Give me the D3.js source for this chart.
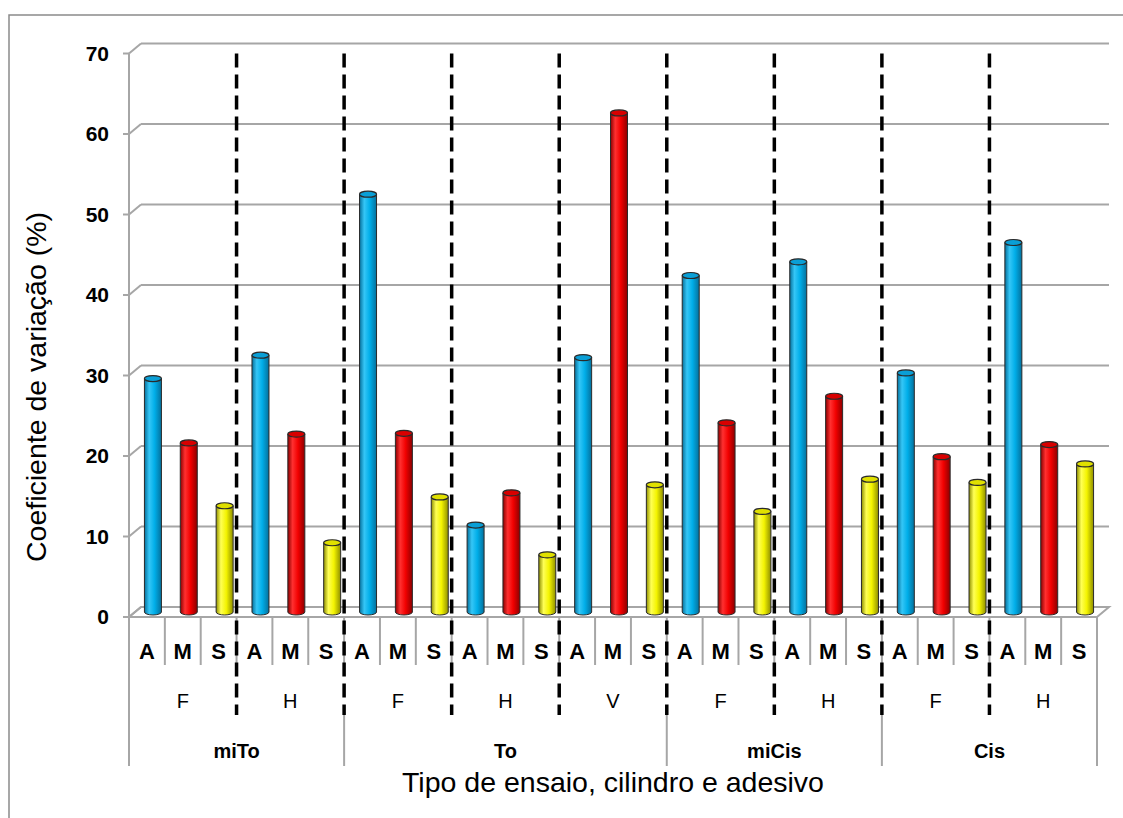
<!DOCTYPE html>
<html>
<head>
<meta charset="utf-8">
<script src="https://cdn.jsdelivr.net/npm/d3@7"></script>
<style>
  body { margin: 0; background: #fff; }
  svg { display: block; font-family: "Liberation Sans", Arial, sans-serif; }
</style>
</head>
<body>
<div id="chart"></div>
<script>
// chart data
const groups = ['miTo', 'To', 'miCis', 'Cis'];
const subgroups = [['F', 'H'], ['F', 'H', 'V'], ['F', 'H'], ['F', 'H']];
const adhesives = ['A', 'M', 'S'];
const valuesA = [29, 31.9, 51.9, 10.8, 31.6, 41.8, 43.5, 29.7, 45.9];
const valuesM = [21, 22.1, 22.2, 14.8, 62, 23.5, 26.8, 19.3, 20.8];
const valuesS = [13.2, 8.6, 14.3, 7.1, 15.8, 12.5, 16.5, 16.1, 18.4];
const yTicks = [0, 10, 20, 30, 40, 50, 60, 70];

const seriesColors = {
    A: { dark: '#05709c', light: '#35c6f6', base: '#00aee9', top: '#0a9fd6' },
    M: { dark: '#8c0000', light: '#ff3030', base: '#f20000', top: '#d80000' },
    S: { dark: '#8f8f00', light: '#ffff55', base: '#f4f400', top: '#e0e000' }
};

function chart(selector) {
    let W = 1123, H = 818,
        left = 129, right = 1097,
        depthX = 12, depthY = 10,
        barW = 17, ry = 3;

    // flatten into one row per bar
    let rows = [];
    let sgIndex = 0;
    groups.forEach((g, gi) => {
        subgroups[gi].forEach(sg => {
            let vals = { A: valuesA[sgIndex], M: valuesM[sgIndex], S: valuesS[sgIndex] };
            adhesives.forEach(a => {
                rows.push({ key: g + '|' + sg + '|' + a, group: g, sub: sg, adh: a, value: vals[a] });
            });
            sgIndex++;
        });
    });

    let svg = d3.select(selector).append('svg')
        .attr('width', W).attr('height', H);

    // outer chart border
    svg.append('rect')
        .attr('x', 9).attr('y', 15).attr('width', W + 20).attr('height', H + 20)
        .attr('fill', 'none').attr('stroke', '#8a8a8a').attr('stroke-width', 1.5);

    let xScale = d3.scaleBand()
        .domain(rows.map(d => d.key))
        .range([left, right])
        .padding(0);

    // middle depth (where the bars stand)
    let yScale = d3.scaleLinear().domain([0, 70]).range([612, 48.5]);
    let yFront = v => yScale(v) + depthY / 2;
    let yBack = v => yScale(v) - depthY / 2;

    let defs = svg.append('defs');
    adhesives.forEach(a => {
        let c = seriesColors[a];
        let gr = defs.append('linearGradient').attr('id', 'grad' + a)
            .attr('x1', '0%').attr('x2', '100%').attr('y1', '0%').attr('y2', '0%');
        gr.append('stop').attr('offset', '0%').attr('stop-color', c.dark);
        gr.append('stop').attr('offset', '28%').attr('stop-color', c.light);
        gr.append('stop').attr('offset', '60%').attr('stop-color', c.base);
        gr.append('stop').attr('offset', '100%').attr('stop-color', c.dark);
    });

    const gridColor = '#a6a6a6';

    // gridlines on back wall + side diagonals + tick marks
    let grid = svg.append('g');
    yTicks.forEach(t => {
        if (t > 0) {
            grid.append('line')
                .attr('x1', left + depthX).attr('x2', right + depthX)
                .attr('y1', yBack(t)).attr('y2', yBack(t))
                .attr('stroke', gridColor).attr('stroke-width', 2);
        }
        grid.append('line')
            .attr('x1', left).attr('x2', left + depthX)
            .attr('y1', yFront(t)).attr('y2', yBack(t))
            .attr('stroke', gridColor).attr('stroke-width', 2);
        grid.append('line')
            .attr('x1', left - 6).attr('x2', left)
            .attr('y1', yFront(t)).attr('y2', yFront(t))
            .attr('stroke', gridColor).attr('stroke-width', 2);
    });

    // floor
    grid.append('path')
        .attr('d', `M${left + depthX},${yBack(0)} L${right + depthX},${yBack(0)} L${right},${yFront(0)} L${left},${yFront(0)} Z`)
        .attr('fill', 'none').attr('stroke', gridColor).attr('stroke-width', 2);

    // value axis line
    grid.append('line')
        .attr('x1', left).attr('x2', left)
        .attr('y1', yFront(70)).attr('y2', yFront(0))
        .attr('stroke', gridColor).attr('stroke-width', 2);

    // tick labels
    svg.append('g').selectAll('text')
        .data(yTicks).enter()
        .append('text')
        .attr('x', 109).attr('y', d => yFront(d))
        .attr('dy', '0.35em')
        .attr('text-anchor', 'end')
        .attr('font-size', 21).attr('font-weight', 'bold')
        .text(d => d);

    // category rows
    let row1Bottom = 665, row2Bottom = 715, row3Bottom = 766;
    let bw = xScale.bandwidth();

    let cat = svg.append('g');
    // gray dividers for A/M/S row
    rows.forEach((d, i) => {
        if (i > 0) {
            cat.append('line')
                .attr('x1', xScale(d.key)).attr('x2', xScale(d.key))
                .attr('y1', yFront(0)).attr('y2', row1Bottom)
                .attr('stroke', gridColor).attr('stroke-width', 2);
        }
    });
    // left and right edges of category axis
    [left, right].forEach(x => {
        cat.append('line')
            .attr('x1', x).attr('x2', x)
            .attr('y1', yFront(0)).attr('y2', row3Bottom)
            .attr('stroke', gridColor).attr('stroke-width', 2);
    });

    cat.selectAll('text.adh')
        .data(rows).enter()
        .append('text')
        .attr('class', 'adh')
        .attr('x', d => xScale(d.key) + bw / 2)
        .attr('y', 651).attr('dy', '0.35em')
        .attr('text-anchor', 'middle')
        .attr('font-size', 22).attr('font-weight', 'bold')
        .text(d => d.adh);

    // subgroup and group labels + boundaries
    let subList = [], groupList = [];
    groups.forEach(g => {
        let gRows = rows.filter(r => r.group === g);
        let gx0 = xScale(gRows[0].key), gx1 = xScale(gRows[gRows.length - 1].key) + bw;
        groupList.push({ name: g, x0: gx0, x1: gx1 });
        let subs = subgroups[groups.indexOf(g)];
        subs.forEach((s, si) => {
            let sRows = gRows.filter(r => r.sub === s);
            let sx0 = xScale(sRows[0].key), sx1 = xScale(sRows[sRows.length - 1].key) + bw;
            subList.push({ name: s, x0: sx0, x1: sx1, first: si === 0 });
        });
    });

    cat.selectAll('text.sub')
        .data(subList).enter()
        .append('text')
        .attr('class', 'sub')
        .attr('x', d => (d.x0 + d.x1) / 2)
        .attr('y', 701).attr('dy', '0.35em')
        .attr('text-anchor', 'middle')
        .attr('font-size', 20)
        .text(d => d.name);

    cat.selectAll('text.grp')
        .data(groupList).enter()
        .append('text')
        .attr('class', 'grp')
        .attr('x', d => (d.x0 + d.x1) / 2)
        .attr('y', 751).attr('dy', '0.35em')
        .attr('text-anchor', 'middle')
        .attr('font-size', 20).attr('font-weight', 'bold')
        .text(d => d.name);

    // gray group boundaries (lower rows)
    groupList.slice(1).forEach(g => {
        cat.append('line')
            .attr('x1', g.x0).attr('x2', g.x0)
            .attr('y1', row2Bottom - 3).attr('y2', row3Bottom)
            .attr('stroke', gridColor).attr('stroke-width', 2);
    });

    // bars (cylinders)
    let bars = svg.append('g').selectAll('g.bar')
        .data(rows).enter()
        .append('g').attr('class', 'bar');

    let cx = d => xScale(d.key) + bw / 2 + depthX / 2;
    let rx = barW / 2;

    bars.append('path')
        .attr('d', d => {
            let x0 = cx(d) - rx, x1 = cx(d) + rx;
            let yt = yScale(d.value), yb = yScale(0);
            return `M${x0},${yt} L${x0},${yb} A${rx},${ry} 0 0 0 ${x1},${yb} L${x1},${yt} Z`;
        })
        .attr('fill', d => `url(#grad${d.adh})`)
        .attr('stroke', '#2a2a2a').attr('stroke-width', 1);

    bars.append('ellipse')
        .attr('cx', cx).attr('cy', d => yScale(d.value))
        .attr('rx', rx).attr('ry', ry)
        .attr('fill', d => seriesColors[d.adh].top)
        .attr('stroke', '#2a2a2a').attr('stroke-width', 1.2);

    // dashed separators
    let dashed = svg.append('g');
    subList.forEach((s, i) => {
        if (i === 0) return;
        dashed.append('line')
            .attr('x1', s.x0).attr('x2', s.x0)
            .attr('y1', yFront(70)).attr('y2', row2Bottom)
            .attr('stroke', '#000').attr('stroke-width', 3.5)
            .attr('stroke-dasharray', '14,7');
    });

    // axis titles
    svg.append('text')
        .attr('transform', 'translate(46,387) rotate(-90)')
        .attr('text-anchor', 'middle')
        .attr('font-size', 28.5)
        .text('Coeficiente de variação (%)');

    svg.append('text')
        .attr('x', 613).attr('y', 792)
        .attr('text-anchor', 'middle')
        .attr('font-size', 28.5)
        .text('Tipo de ensaio, cilindro e adesivo');

    return chart;
}

chart('#chart');
</script>
</body>
</html>
